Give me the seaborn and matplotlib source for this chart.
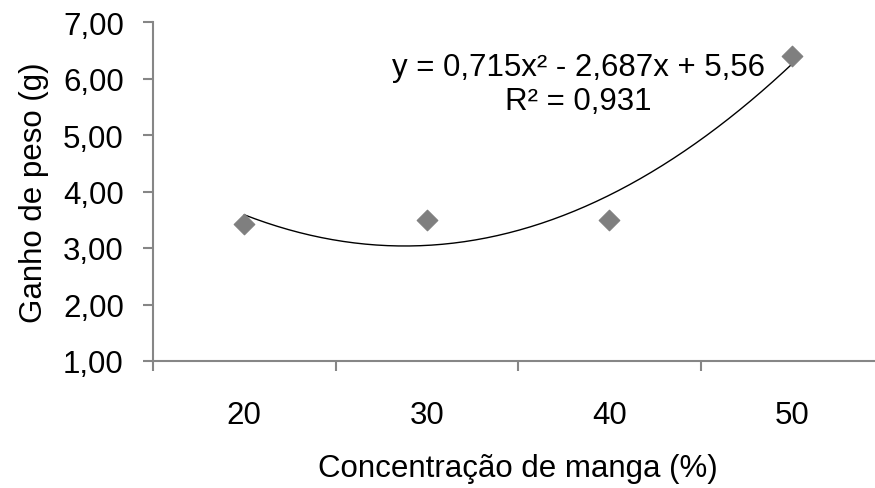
import numpy as np
import pandas as pd
import seaborn as sns
import matplotlib.pyplot as plt
from matplotlib.ticker import FuncFormatter, FixedLocator

# ---------------- data ----------------
concentracao = ["20", "30", "40", "50"]
ganho_peso = [3.42, 3.49, 3.49, 6.40]
coef = [0.715, -2.687, 5.56]   # trendline y = a x^2 + b x + c (x = 1..4)

sns.set_theme(style="white")
plt.rcParams["font.family"] = ["Liberation Sans", "DejaVu Sans"]
plt.rcParams["text.color"] = "black"
plt.rcParams["axes.labelcolor"] = "black"
plt.rcParams["xtick.labelcolor"] = "black"
plt.rcParams["ytick.labelcolor"] = "black"

df = pd.DataFrame({"pos": np.arange(1, len(concentracao) + 1), "ganho": ganho_peso})
xs = np.linspace(1, 4, 200)
trend = pd.DataFrame({"x": xs, "y": np.polyval(coef, xs)})

fs = 22.5
fig = plt.figure(figsize=(8.75, 4.89), dpi=100)
ax = fig.add_axes([153 / 875, 127 / 489, 730 / 875, 339 / 489])

sns.lineplot(data=trend, x="x", y="y", ax=ax, color="black", linewidth=1.0)
sns.scatterplot(data=df, x="pos", y="ganho", ax=ax, marker="D", s=110,
                color="#7f7f7f", edgecolor="#7f7f7f", zorder=3)

ax.set_xlim(0.5, 4.5)
ax.set_ylim(1, 7)
ax.set_yticks(np.arange(1, 8, 1))
ax.yaxis.set_major_formatter(FuncFormatter(lambda v, p: f"{v:.2f}".replace(".", ",")))

# categories labelled at centres, ticks at boundaries (Excel style)
ax.xaxis.set_major_locator(FixedLocator(np.arange(0.5, 5, 1)))
ax.xaxis.set_minor_locator(FixedLocator(df["pos"]))
ax.set_xticklabels([])
ax.set_xticklabels(concentracao, minor=True)
ax.tick_params(axis="x", which="major", direction="out", length=7, width=1.5,
               color="#868686", bottom=True)
ax.tick_params(axis="x", which="minor", length=0, pad=28, labelsize=fs)
ax.tick_params(axis="y", direction="out", length=7, width=1.5, color="#868686",
               left=True, labelsize=fs, pad=14)

for s in ["top", "right"]:
    ax.spines[s].set_visible(False)
for s in ["left", "bottom"]:
    ax.spines[s].set_color("#868686")
    ax.spines[s].set_linewidth(1.5)

ax.set_xlabel("Concentração de manga (%)", fontsize=fs, labelpad=17)
ax.set_ylabel("Ganho de peso (g)", fontsize=fs, labelpad=10)

ax.text(2.83, 6.2, "y = 0,715x² - 2,687x + 5,56", fontsize=fs, ha="center", va="center")
ax.text(2.83, 5.6, "R² = 0,931", fontsize=fs, ha="center", va="center")

fig.savefig("out.png", dpi=100)
